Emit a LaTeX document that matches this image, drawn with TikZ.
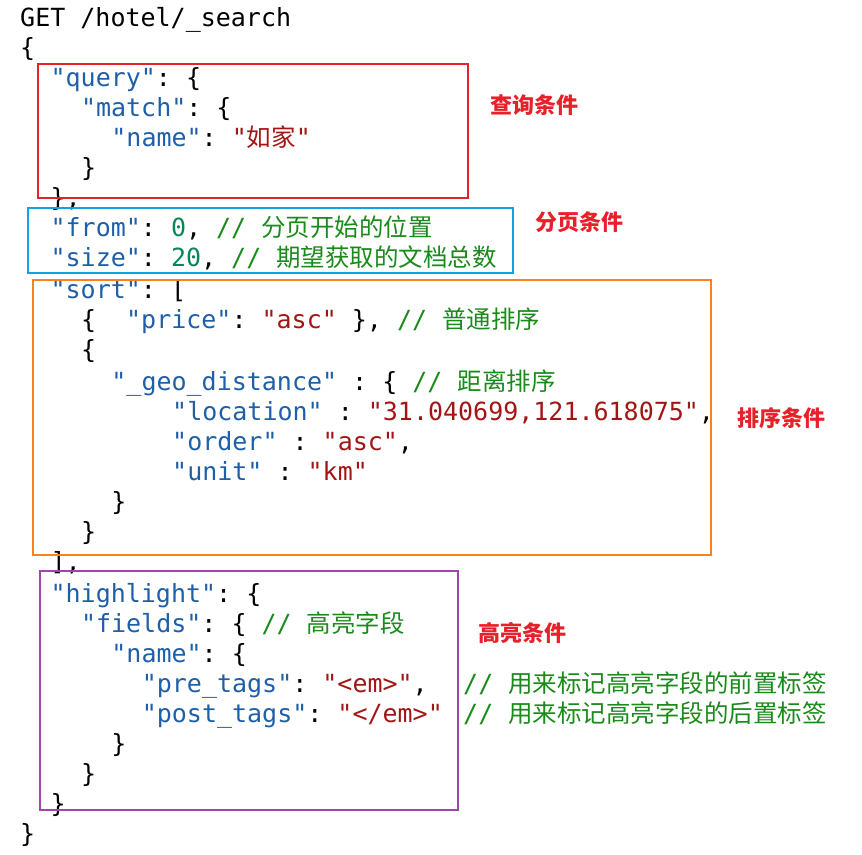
\documentclass[tikz,border=0pt]{standalone}
\usepackage{fontspec}
\setmonofont{DejaVu Sans Mono}
\newfontfamily\cjk{Noto Sans CJK SC}
\definecolor{keyc}{HTML}{1F5FA8}
\definecolor{strc}{HTML}{A31515}
\definecolor{comc}{HTML}{1A8A1A}
\definecolor{numc}{HTML}{098658}
\definecolor{labc}{HTML}{E8202A}
\newcommand{\ck}[1]{\textcolor{keyc}{#1}}
\newcommand{\cs}[1]{\textcolor{strc}{#1}}
\newcommand{\cc}[1]{\textcolor{comc}{#1}}
\newcommand{\cn}[1]{\textcolor{numc}{#1}}
\newcommand{\zh}[1]{{\cjk\fontsize{24.5}{28}\selectfont #1}}
\begin{document}
\begin{tikzpicture}[x=1pt,y=-1pt,
  code/.style={anchor=base west,inner sep=0pt,font=\ttfamily\fontsize{25}{30}\selectfont},
  lab/.style={anchor=west,inner sep=0pt,text=labc,font=\cjk\bfseries\fontsize{22}{24}\selectfont},
  box/.style={line width=2.8pt}]
\useasboundingbox (0,0) rectangle (862,854);
\def\cw{15.2}
\newcommand{\codeln}[4]{\node[code] (#1) at ({20+#3*\cw},{#2+8}) {#4};}
\codeln{l1}{18}{0}{GET /hotel/\_search}
\codeln{l2}{48}{0}{\{}
\codeln{l3}{78}{2}{\ck{"query"}: \{}
\codeln{l4}{108}{4}{\ck{"match"}: \{}
\codeln{l5}{138}{6}{\ck{"name"}: \cs{"\zh{如家}"}}
\codeln{l6}{168}{4}{\}}
\codeln{l7}{198}{2}{\},}
\codeln{l8}{228}{2}{\ck{"from"}: \cn{0}, \cc{// \zh{分页开始的位置}}}
\codeln{l9}{258}{2}{\ck{"size"}: \cn{20}, \cc{// \zh{期望获取的文档总数}}}
\codeln{l10}{290}{2}{\ck{"sort"}: [}
\codeln{l11}{320}{4}{\{\ \ \ck{"price"}: \cs{"asc"} \}, \cc{// \zh{普通排序}}}
\codeln{l12}{350}{4}{\{}
\codeln{l13}{382}{6}{\ck{"\_geo\_distance"} : \{ \cc{// \zh{距离排序}}}
\codeln{l14}{412}{10}{\ck{"location"} : \cs{"31.040699,121.618075"},}
\codeln{l15}{442}{10}{\ck{"order"} : \cs{"asc"},}
\codeln{l16}{472}{10}{\ck{"unit"} : \cs{"km"}}
\codeln{l17}{502}{6}{\}}
\codeln{l18}{532}{4}{\}}
\codeln{l19}{562}{2}{],}
\codeln{l20}{594}{2}{\ck{"highlight"}: \{}
\codeln{l21}{624}{4}{\ck{"fields"}: \{ \cc{// \zh{高亮字段}}}
\codeln{l22}{654}{6}{\ck{"name"}: \{}
\codeln{l23}{684}{8}{\ck{"pre\_tags"}: \cs{"<em>"},}
\codeln{l24}{714}{8}{\ck{"post\_tags"}: \cs{"</em>"}}
\codeln{l25}{744}{6}{\}}
\codeln{l26}{774}{4}{\}}
\codeln{l27}{804}{2}{\}}
\codeln{l28}{834}{0}{\}}
\node[code] (c1) at (463,692) {\cc{// \zh{用来标记高亮字段的前置标签}}};
\node[code] (c2) at (463,722) {\cc{// \zh{用来标记高亮字段的后置标签}}};
\draw[box,draw=labc] (38,64) rectangle (468,198);
\draw[box,draw={rgb,255:red,20;green,160;blue,230}] (28,208) rectangle (513,273);
\draw[box,draw={rgb,255:red,250;green,130;blue,30}] (33,280) rectangle (711,555);
\draw[box,draw={rgb,255:red,160;green,70;blue,170}] (40,571) rectangle (458,810);
\node[lab] (t1) at (490,105) {查询条件};
\node[lab] (t2) at (535,222) {分页条件};
\node[lab] (t3) at (737,418) {排序条件};
\node[lab] (t4) at (478,633) {高亮条件};
\end{tikzpicture}
\end{document}
